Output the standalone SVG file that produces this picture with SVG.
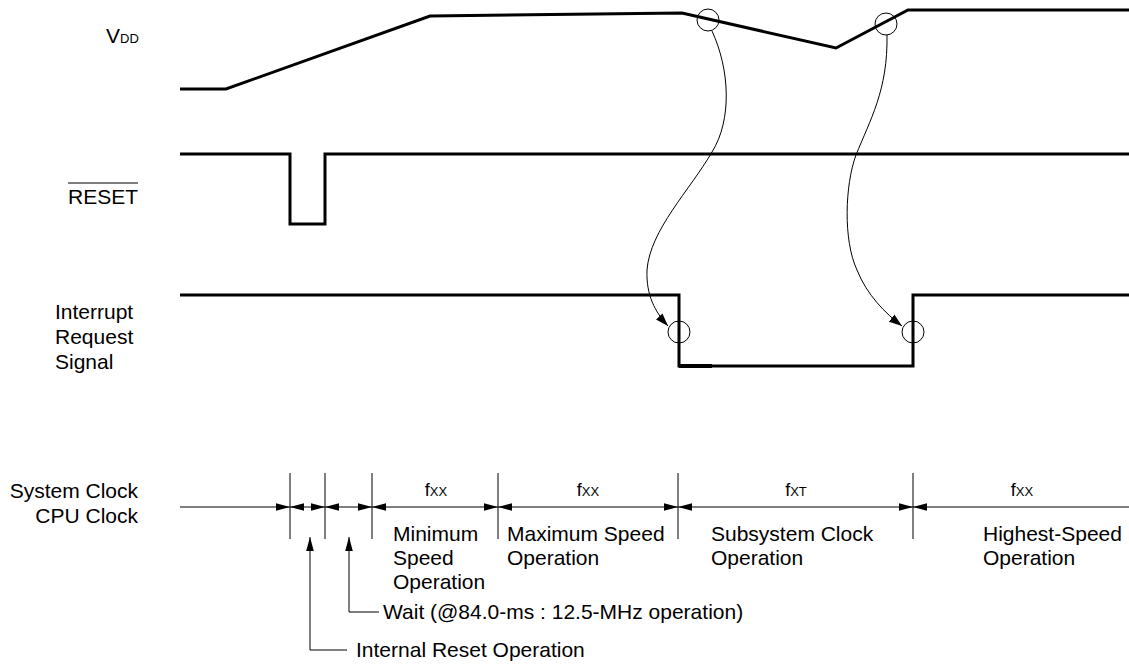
<svg xmlns="http://www.w3.org/2000/svg" width="1129" height="664" viewBox="0 0 1129 664">
<style>
text{font-family:"Liberation Sans",Arial,sans-serif;font-size:21px;fill:#000}
.sig{fill:none;stroke:#000;stroke-width:3;stroke-linejoin:miter}
.thin{fill:none;stroke:#000;stroke-width:1}
.dim{fill:none;stroke:#000;stroke-width:1}
.sub{font-size:13px}
.f{font-size:18px}
</style>
<defs>
<marker id="ah" viewBox="0 -4 14 8" refX="14" refY="0" markerWidth="14" markerHeight="8" markerUnits="userSpaceOnUse" orient="auto-start-reverse">
<path d="M0,-3.8 L14,0 L0,3.8 z" fill="#000"/>
</marker>
<marker id="ch" viewBox="0 -5 13 10" refX="13" refY="0" markerWidth="13" markerHeight="10" markerUnits="userSpaceOnUse" orient="auto">
<path d="M0,-4.5 L13,0 L0,4.5 z" fill="#000"/>
</marker>
</defs>
<rect width="1129" height="664" fill="#fff"/>

<g id="labels">
<text x="106" y="43">V<tspan class="sub">DD</tspan></text>
<text x="138" y="204" text-anchor="end">RESET</text>
<line x1="68" y1="183" x2="138" y2="183" stroke="#000" stroke-width="1"/>
<text x="55" y="319">Interrupt</text>
<text x="55" y="344">Request</text>
<text x="55" y="369">Signal</text>
<text x="138" y="498" text-anchor="end">System Clock</text>
<text x="138" y="523" text-anchor="end">CPU Clock</text>
</g>

<g id="vdd">
<polyline class="sig" points="180,89 226,89 430,16 682,13 836,48 908,10 1129,10"/>
<circle class="thin" cx="708" cy="20" r="11"/>
<circle class="thin" cx="886" cy="24" r="11"/>
</g>

<g id="reset">
<polyline class="sig" points="180,154 290,154 290,224 325,224 325,154 1129,154"/>
</g>

<g id="interrupt">
<polyline class="sig" points="180,295 679,295 679,366 913,366 913,295 1129,295"/>
<line x1="679" y1="366" x2="712" y2="366" stroke="#000" stroke-width="4"/>
<circle class="thin" cx="679" cy="332" r="11"/>
<circle class="thin" cx="913" cy="332" r="11"/>
</g>

<g id="connectors">
<path class="thin" d="M712,31 C730,70 732,120 712,152 C690,190 650,230 647,270 C646,295 655,312 668,326" marker-end="url(#ch)"/>
<path class="thin" d="M887,35 C888,90 870,120 856,155 C845,185 843,240 857,270 C867,295 885,313 902,326" marker-end="url(#ch)"/>
</g>

<g id="clock">
<line class="dim" x1="290" y1="473" x2="290" y2="539"/>
<line class="dim" x1="325" y1="473" x2="325" y2="539"/>
<line class="dim" x1="372" y1="473" x2="372" y2="539"/>
<line class="dim" x1="498" y1="473" x2="498" y2="539"/>
<line class="dim" x1="678" y1="473" x2="678" y2="539"/>
<line class="dim" x1="913" y1="473" x2="913" y2="539"/>
<line class="dim" x1="180" y1="507" x2="290" y2="507" marker-end="url(#ah)"/>
<line class="dim" x1="290" y1="507" x2="325" y2="507" marker-start="url(#ah)" marker-end="url(#ah)"/>
<line class="dim" x1="325" y1="507" x2="372" y2="507" marker-start="url(#ah)" marker-end="url(#ah)"/>
<line class="dim" x1="372" y1="507" x2="498" y2="507" marker-start="url(#ah)" marker-end="url(#ah)"/>
<line class="dim" x1="498" y1="507" x2="678" y2="507" marker-start="url(#ah)" marker-end="url(#ah)"/>
<line class="dim" x1="678" y1="507" x2="913" y2="507" marker-start="url(#ah)" marker-end="url(#ah)"/>
<line class="dim" x1="913" y1="507" x2="1129" y2="507" marker-start="url(#ah)"/>

<text x="436" y="496" text-anchor="middle" class="f">f<tspan class="sub">XX</tspan></text>
<text x="588" y="496" text-anchor="middle" class="f">f<tspan class="sub">XX</tspan></text>
<text x="796" y="496" text-anchor="middle" class="f">f<tspan class="sub">XT</tspan></text>
<text x="1022" y="496" text-anchor="middle" class="f">f<tspan class="sub">XX</tspan></text>

<text x="393" y="541">Minimum</text>
<text x="393" y="565">Speed</text>
<text x="393" y="589">Operation</text>
<text x="507" y="541">Maximum Speed</text>
<text x="507" y="565">Operation</text>
<text x="711" y="541">Subsystem Clock</text>
<text x="711" y="565">Operation</text>
<text x="983" y="541">Highest-Speed</text>
<text x="983" y="565">Operation</text>

<path class="dim" d="M349,612 L349,537" marker-end="url(#ah)"/>
<line class="dim" x1="349" y1="612" x2="379" y2="612"/>
<path class="dim" d="M310,650 L310,537" marker-end="url(#ah)"/>
<line class="dim" x1="310" y1="650" x2="347" y2="650"/>
<text x="383" y="619">Wait (@84.0-ms : 12.5-MHz operation)</text>
<text x="356" y="657">Internal Reset Operation</text>
</g>
</svg>
